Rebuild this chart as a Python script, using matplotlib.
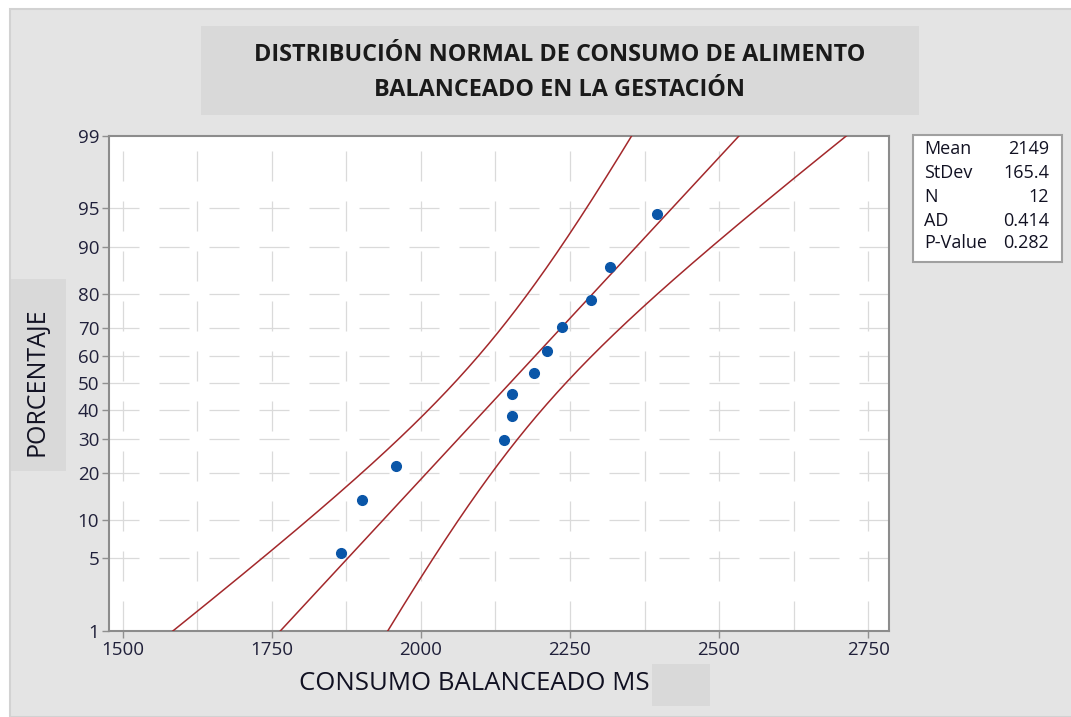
import math
import numpy as np
import matplotlib
matplotlib.use("Agg")
import matplotlib.pyplot as plt
from matplotlib.patches import Rectangle

# data
consumo = [1866, 1901, 1959, 2140, 2152, 2152, 2189, 2212, 2237, 2285, 2317, 2396]
porcentaje = [5.6, 13.7, 21.8, 29.8, 37.9, 46.0, 54.0, 62.1, 70.2, 78.2, 86.3, 94.4]
MEAN = 2149
SD = 165.4
N = 12
AD = 0.414
PVAL = 0.282

x_ticks = [1500, 1750, 2000, 2250, 2500, 2750]
x_grid = [1500, 1625, 1750, 1875, 2000, 2125, 2250, 2375, 2500, 2625, 2750]
y_ticks = [1, 5, 10, 20, 30, 40, 50, 60, 70, 80, 90, 95, 99]

W, H = 1071, 717


def norm_ppf(p):
    # Acklam approximation of the inverse normal cdf
    p = np.asarray(p, dtype=float)
    p = np.clip(p, 1e-12, 1 - 1e-12)
    a = [-3.969683028665376e+01, 2.209460984245205e+02, -2.759285104469687e+02,
         1.383577518672690e+02, -3.066479806614716e+01, 2.506628277459239e+00]
    b = [-5.447609879822406e+01, 1.615858368580409e+02, -1.556989798598866e+02,
         6.680131188771972e+01, -1.328068155288572e+01]
    c = [-7.784894002430293e-03, -3.223964580411365e-01, -2.400758277161838e+00,
         -2.549732539343734e+00, 4.374664141464968e+00, 2.938163982698783e+00]
    d = [7.784695709041462e-03, 3.224671290700398e-01, 2.445134137142996e+00,
         3.754408661907416e+00]
    lo, hi = 0.02425, 1 - 0.02425
    out = np.empty_like(p)
    m = p < lo
    q = np.sqrt(-2 * np.log(p[m]))
    out[m] = (((((c[0]*q+c[1])*q+c[2])*q+c[3])*q+c[4])*q+c[5]) / ((((d[0]*q+d[1])*q+d[2])*q+d[3])*q+1)
    m = p > hi
    q = np.sqrt(-2 * np.log(1 - p[m]))
    out[m] = -(((((c[0]*q+c[1])*q+c[2])*q+c[3])*q+c[4])*q+c[5]) / ((((d[0]*q+d[1])*q+d[2])*q+d[3])*q+1)
    m = (p >= lo) & (p <= hi)
    q = p[m] - 0.5
    r = q * q
    out[m] = (((((a[0]*r+a[1])*r+a[2])*r+a[3])*r+a[4])*r+a[5])*q / (((((b[0]*r+b[1])*r+b[2])*r+b[3])*r+b[4])*r+1)
    return out


_erf = np.vectorize(math.erf)


def norm_cdf(z):
    return 0.5 * (1 + _erf(np.asarray(z, dtype=float) / math.sqrt(2)))


def fwd(y):
    return norm_ppf(np.asarray(y, dtype=float) / 100.0)


def inv(z):
    return norm_cdf(z) * 100.0


def fx(px):
    return px / W


def fy(py):
    return 1 - py / H


plt.rcParams['font.family'] = ['Open Sans', 'DejaVu Sans']

fig = plt.figure(figsize=(W / 100, H / 100), dpi=100)
fig.patch.set_facecolor('white')

# gray panel and label boxes (behind the axes)
fig.patches.append(Rectangle((fx(10), 0), 1, fy(9), transform=fig.transFigure,
                             facecolor='#e4e4e4', edgecolor='#d2d2d2', lw=1.5, zorder=-3))
for (x0, y0, x1, y1) in [(201, 26, 919, 115), (11, 279, 66, 471), (652, 664, 710, 706)]:
    fig.patches.append(Rectangle((fx(x0), fy(y1)), fx(x1 - x0), (y1 - y0) / H,
                                 transform=fig.transFigure, facecolor='#d9d9d9',
                                 edgecolor='none', zorder=-2))

fig.text(fx(560), fy(55), 'DISTRIBUCIÓN NORMAL DE CONSUMO DE ALIMENTO', ha='center', va='center',
         fontsize=16.8, fontweight='bold', color='#1a1a1a')
fig.text(fx(560), fy(90), 'BALANCEADO EN LA GESTACIÓN', ha='center', va='center',
         fontsize=16.8, fontweight='bold', color='#1a1a1a')

ax = fig.add_axes([fx(109), fy(631), fx(889 - 109), (631 - 135.7) / H])
ax.set_zorder(1)
ax.set_yscale('function', functions=(fwd, inv))
ax.set_xlim(1477, 2785)
ax.set_ylim(1, 99)
ax.set_facecolor('white')

for g in x_grid:
    ax.axvline(g, color='#dadada', lw=0.9, ls=(0, (24, 16)), zorder=1)
for t in y_ticks[1:-1]:
    ax.axhline(t, color='#dadada', lw=0.9, ls=(0, (24, 16)), zorder=1)

# fitted line and 95% confidence band from the Mean / StDev of the panel
z = np.linspace(fwd(1)[()], fwd(99)[()], 300)
fit = MEAN + SD * z
half = 1.96 * SD * np.sqrt(1 / N + z ** 2 / (2 * N))
pz = inv(z)
ax.plot(fit, pz, color='#a3282b', lw=1.1, zorder=3)
ax.plot(fit - half, pz, color='#a3282b', lw=1.1, zorder=3)
ax.plot(fit + half, pz, color='#a3282b', lw=1.1, zorder=3)

ax.plot(consumo, porcentaje, 'o', color='#0a56a8', ms=7, mec='#0a56a8', zorder=4)

ax.set_xticks(x_ticks)
ax.set_xticklabels([str(v) for v in x_ticks])
ax.set_yticks(y_ticks)
ax.set_yticklabels([str(v) for v in y_ticks])
ax.minorticks_off()
ax.tick_params(axis='both', direction='out', length=5, width=1, color='#909090',
               labelsize=13.5, labelcolor='#20203a', pad=2)
for s in ax.spines.values():
    s.set_color('#8c8c8c')
    s.set_linewidth(1.5)

fig.text(fx(474), fy(684), 'CONSUMO BALANCEADO MS', ha='center', va='center',
         fontsize=18.5, color='#111122')
fig.text(fx(37), fy(382), 'PORCENTAJE', ha='center', va='center', rotation=90,
         fontsize=18, color='#111122')

# stats box
fig.patches.append(Rectangle((fx(913), fy(262)), fx(1062 - 913), (262 - 135) / H,
                             transform=fig.transFigure, facecolor='white', edgecolor='#a0a0a0',
                             lw=1.5, zorder=2))
stat_names = ['Mean', 'StDev', 'N', 'AD', 'P-Value']
stat_vals = [str(MEAN), str(SD), str(N), '%.3f' % AD, '%.3f' % PVAL]
rows = [149, 173, 197, 221, 243]
for nm, vl, ry in zip(stat_names, stat_vals, rows):
    fig.text(fx(924), fy(ry), nm, ha='left', va='center', fontsize=13, color='#111122', zorder=3)
    fig.text(fx(1049), fy(ry), vl, ha='right', va='center', fontsize=13, color='#111122', zorder=3)

fig.savefig('out.png', dpi=100)
